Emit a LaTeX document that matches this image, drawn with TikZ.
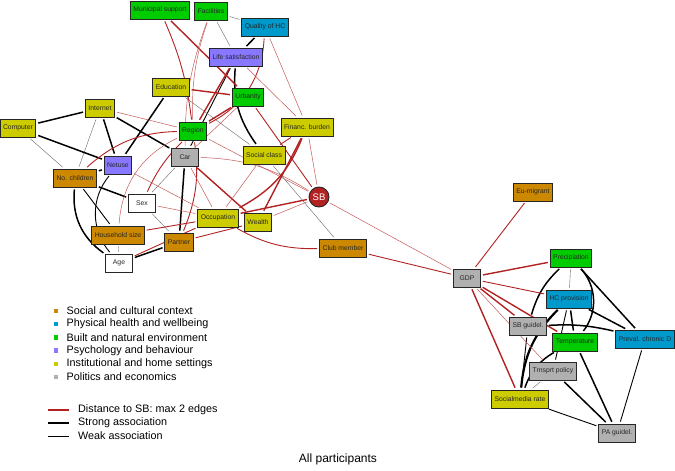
\documentclass[tikz,border=0pt]{standalone}
\usepackage{fontspec}
\setmainfont{Liberation Sans}
\usepackage{tikz}
\usetikzlibrary{positioning, backgrounds}

\definecolor{socl}{RGB}{204,136,0}
\definecolor{hlth}{RGB}{0,153,204}
\definecolor{envr}{RGB}{0,204,0}
\definecolor{psyc}{RGB}{136,119,255}
\definecolor{inst}{RGB}{204,204,0}
\definecolor{polt}{RGB}{176,176,176}
\definecolor{sbred}{RGB}{178,34,34}

\begin{document}
\begin{tikzpicture}[
    x=1pt, y=-1pt,
    factor/.style={
        rectangle, draw=black!85, line width=0.9pt, fill=#1,
        minimum width=27pt, minimum height=18pt, inner xsep=3pt, inner ysep=1pt,
        font=\fontsize{6.8}{8}\selectfont, text=black!85
    },
    outcome/.style={
        circle, draw=black!85, line width=0.9pt, fill=sbred,
        minimum size=20pt, inner sep=0pt, text=white,
        font=\fontsize{9.5}{11}\selectfont
    },
    edge/.style={shorten >=2pt, shorten <=2pt},
    redthick/.style={edge, draw=sbred, line width=1.4pt},
    redmid/.style={edge, draw=sbred, line width=0.9pt},
    redthin/.style={edge, draw=sbred!75, line width=0.5pt},
    vstrong/.style={edge, draw=black, line width=2.2pt},
    strong/.style={edge, draw=black, line width=1.5pt},
    mid/.style={edge, draw=black, line width=0.9pt},
    weak/.style={edge, draw=black!60, line width=0.4pt},
    legsq/.style={rectangle, minimum size=4.5pt, inner sep=0pt, fill=#1},
    legtxt/.style={font=\fontsize{10.8}{12}\selectfont, inner sep=0pt, anchor=west}
]
\useasboundingbox (0,0) rectangle (675,471);

% Top: environment and health
\node[factor=envr] (musup) at (160,10) {Municipal support};
\node[factor=envr] (facil) at (211,11) {Facilities};
\node[factor=hlth] (qualhc) at (265,27) {Quality of HC};
\node[factor=psyc] (lifesat) at (236,57) {Life satisfaction};
\node[factor=inst] (educ) at (171,87) {Education};
\node[factor=envr] (urban) at (248,97) {Urbanity};

% Middle: home and social context
\node[factor=inst] (internet) at (100,108) {Internet};
\node[factor=inst] (computer) at (18,128) {Computer};
\node[factor=envr] (region) at (193,131) {Region};
\node[factor=inst] (financ) at (307,127) {Financ. burden};
\node[factor=polt] (car) at (185,157) {Car};
\node[factor=inst] (socclass) at (264,155) {Social class};
\node[factor=psyc] (netuse) at (118,165) {Netuse};
\node[factor=socl] (nochild) at (75,178) {No. children};
\node[outcome] (sb) at (319,197) {SB};
\node[factor=white] (sex) at (142,203) {Sex};
\node[factor=inst] (occup) at (218,218) {Occupation};
\node[factor=inst] (wealth) at (258,222) {Wealth};
\node[factor=socl] (hhsize) at (118,235) {Household size};
\node[factor=socl] (partner) at (179,242) {Partner};
\node[factor=socl] (club) at (343,248) {Club member};
\node[factor=white] (age) at (119,263) {Age};

% Right: politics and climate
\node[factor=socl] (eumig) at (533,192) {Eu-migrant};
\node[factor=polt] (gdp) at (467,278) {GDP};
\node[factor=envr] (precip) at (571,258) {Precipiation};
\node[factor=hlth] (hcprov) at (569,299) {HC provision};
\node[factor=polt] (sbguid) at (528,326) {SB guidel.};
\node[factor=envr] (temp) at (575,342) {Temperature};
\node[factor=hlth] (preval) at (645,339) {Preval. chronic D};
\node[factor=polt] (trnsprt) at (553,371) {Trnsprt policy};
\node[factor=inst] (social) at (520,399) {Socialmedia rate};
\node[factor=polt] (paguid) at (617,433) {PA guidel.};

% Edges
\begin{scope}[on background layer]
% black: associations
\draw[weak] (musup) -- (facil);
\draw[weak] (facil) -- (qualhc);
\draw[weak] (facil) -- (lifesat);
\draw[strong] (qualhc) -- (lifesat);
\draw[strong] (lifesat) to[bend right=20] (socclass);
\draw[mid] (lifesat) -- (car);
\draw[strong] (educ) -- (netuse);
\draw[weak] (educ) -- (socclass);
\draw[strong] (internet) -- (computer);
\draw[strong] (internet) -- (netuse);
\draw[strong] (internet) -- (car);
\draw[weak] (internet) -- (nochild);
\draw[strong] (computer) -- (netuse);
\draw[weak] (computer) -- (nochild);
\draw[strong] (netuse) -- (nochild);
\draw[mid] (netuse) to[bend right=40] (age);
\draw[strong] (nochild) -- (sex);
\draw[mid] (nochild) -- (hhsize);
\draw[strong] (nochild) to[bend right=30] (age);
\draw[weak] (car) -- (sex);
\draw[strong] (car) -- (partner);
\draw[weak] (sex) -- (partner);
\draw[weak] (hhsize) -- (age);
\draw[strong] (age) -- (partner);
\draw[weak] (socclass) -- (club);
\draw[weak] (precip) -- (hcprov);
\draw[strong] (precip) to[bend right=15] (sbguid);
\draw[strong] (precip) to[bend left=40] (temp);
\draw[strong] (precip) -- (preval);
\draw[strong] (hcprov) -- (preval);
\draw[strong] (hcprov) -- (temp);
\draw[vstrong] (hcprov) to[bend right=20] (social);
\draw[strong] (sbguid) to[bend left=8] (preval);
\draw[mid] (sbguid) -- (social);
\draw[strong] (temp) to[bend right=20] (social);
\draw[mid] (trnsprt) -- (hcprov);
\draw[strong] (trnsprt) -- (paguid);
\draw[strong] (temp) -- (paguid);
\draw[mid] (preval) -- (paguid);
\draw[mid] (social) -- (paguid);
\draw[weak] (social) -- (trnsprt);
% red: within 2 edges of SB
\draw[redthick] (musup) -- (urban);
\draw[redmid] (musup) to[bend left=8] (region);
\draw[redthin] (facil) to[bend right=10] (region);
\draw[redthin] (facil) to[bend right=10] (car);
\draw[redmid] (qualhc) to[bend left=30] (region);
\draw[redthin] (qualhc) -- (financ);
\draw[redthick] (lifesat) -- (region);
\draw[redthin] (lifesat) -- (financ);
\draw[redthick] (educ) -- (urban);
\draw[redthick] (region) -- (urban);
\draw[redmid] (urban) -- (sb);
\draw[redthin] (urban) -- (car);
\draw[redthin] (internet) -- (region);
\draw[redmid] (region) to[bend right=20] (nochild);
\draw[redmid] (region) to[bend right=10] (sex);
\draw[redthin] (region) to[bend right=30] (hhsize);
\draw[redmid] (region) to[bend left=15] (partner);
\draw[redthin] (region) -- (sb);
\draw[redthin] (car) -- (occup);
\draw[redthick] (car) -- (wealth);
\draw[redthin] (car) to[bend left=15] (sb);
\draw[redthin] (netuse) -- (occup);
\draw[redthin] (sex) -- (occup);
\draw[redmid] (hhsize) -- (occup);
\draw[redmid] (age) -- (occup);
\draw[redmid] (partner) -- (wealth);
\draw[redthick] (occup) -- (sb);
\draw[redthin] (wealth) -- (sb);
\draw[redthick] (wealth) -- (financ);
\draw[redthick] (occup) to[bend right=20] (financ);
\draw[redthin] (socclass) -- (occup);
\draw[redmid] (socclass) -- (financ);
\draw[redthin] (financ) -- (sb);
\draw[redmid] (occup) to[bend right=15] (club);
\draw[redthin] (sb) -- (gdp);
\draw[redmid] (club) -- (gdp);
\draw[redmid] (gdp) -- (eumig);
\draw[redthick] (gdp) -- (precip);
\draw[redmid] (gdp) -- (hcprov);
\draw[redthick] (gdp) -- (temp);
\draw[redthick] (gdp) -- (sbguid);
\draw[redthin] (gdp) -- (trnsprt);
\draw[redthick] (gdp) -- (social);
\end{scope}

% Legend
\node[legsq=socl] (lsocl) at (56,311) {};
\node[legtxt, right=8pt of lsocl] {Social and cultural context};
\node[legsq=hlth, below=8.3pt of lsocl] (lhlth) {};
\node[legtxt, right=8pt of lhlth] {Physical health and wellbeing};
\node[legsq=envr, below=8.3pt of lhlth] (lenvr) {};
\node[legtxt, right=8pt of lenvr] {Built and natural environment};
\node[legsq=psyc, below=8.3pt of lenvr] (lpsyc) {};
\node[legtxt, right=8pt of lpsyc] {Psychology and behaviour};
\node[legsq=inst, below=8.3pt of lpsyc] (linst) {};
\node[legtxt, right=8pt of linst] {Institutional and home settings};
\node[legsq=polt, below=8.3pt of linst] (lpolt) {};
\node[legtxt, right=8pt of lpolt] {Politics and economics};

\coordinate (lred) at (48,410);
\coordinate (lstrong) at (48,423);
\coordinate (lweak) at (48,436);
\node[legtxt] (tred) at (78,410) {Distance to SB: max 2 edges};
\node[legtxt] (tstrong) at (78,423) {Strong association};
\node[legtxt] (tweak) at (78,436) {Weak association};
\draw[draw=sbred, line width=1.4pt] (lred) -- +(21,0);
\draw[draw=black, line width=2pt] (lstrong) -- +(21,0);
\draw[draw=black, line width=0.6pt] (lweak) -- +(21,0);

% Title
\node[font=\fontsize{12}{14}\selectfont] (title) at (338,459) {All participants};

\end{tikzpicture}
\end{document}
